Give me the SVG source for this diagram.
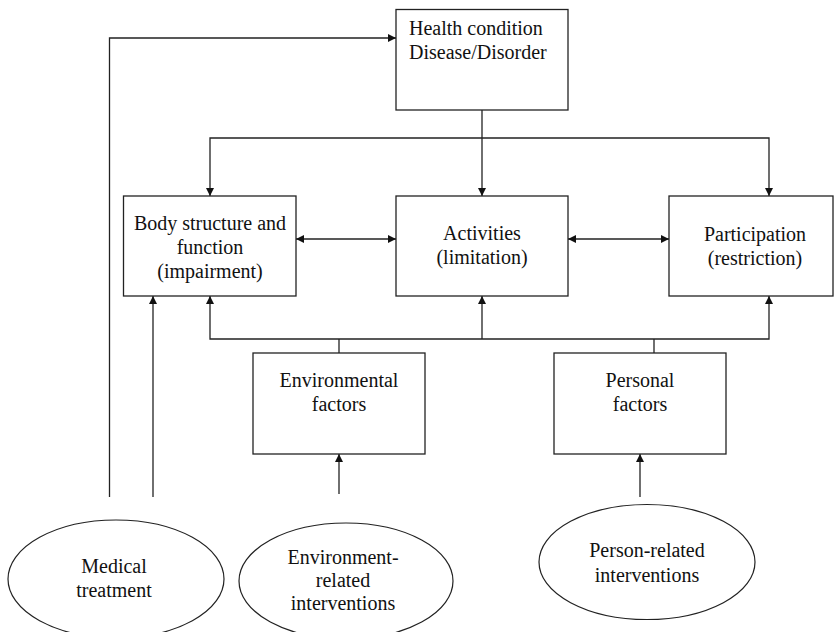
<svg xmlns="http://www.w3.org/2000/svg" width="835" height="632" viewBox="0 0 835 632">
<style>
.box{fill:#fff;stroke:#222;stroke-width:1.3}
.ell{fill:#fff;stroke:#222;stroke-width:1.2}
.ln{fill:none;stroke:#222;stroke-width:1.3}
.t{font-family:'Liberation Serif','DejaVu Serif','Times New Roman',serif;font-size:20px;fill:#111}
.c{text-anchor:middle}
</style>
<defs>
<marker id="ah" viewBox="0 0 10 10" refX="10" refY="5" markerWidth="9" markerHeight="8" markerUnits="userSpaceOnUse" orient="auto-start-reverse">
<path d="M0,0 L10,5 L0,10 Z" fill="#111"/>
</marker>
</defs>
<rect width="835" height="632" fill="#fff"/>
<g id="connectors">
<path class="ln" d="M109.5,497 V38 H396" marker-end="url(#ah)"/>
<path class="ln" d="M482,110 V196" marker-end="url(#ah)"/>
<path class="ln" d="M210,196 V138 H769 V196" marker-start="url(#ah)" marker-end="url(#ah)"/>
<path class="ln" d="M296,239 H396" marker-start="url(#ah)" marker-end="url(#ah)"/>
<path class="ln" d="M568,239 H669" marker-start="url(#ah)" marker-end="url(#ah)"/>
<path class="ln" d="M210,296 V339 H769 V296" marker-start="url(#ah)" marker-end="url(#ah)"/>
<path class="ln" d="M482,339 V296" marker-end="url(#ah)"/>
<path class="ln" d="M339,353 V339"/>
<path class="ln" d="M654,353 V339"/>
<path class="ln" d="M153,497 V296" marker-end="url(#ah)"/>
<path class="ln" d="M339,494 V454" marker-end="url(#ah)"/>
<path class="ln" d="M640,497 V454" marker-end="url(#ah)"/>
</g>
<g class="t" font-family="Liberation Serif, DejaVu Serif, serif">
<g id="health">
<rect class="box" x="396" y="9.5" width="172" height="100.5"/>
<text x="409" y="35">Health condition</text>
<text x="409" y="59">Disease/Disorder</text>
</g>
<g id="body">
<rect class="box" x="123.5" y="196" width="172.5" height="100"/>
<text class="c" x="210" y="230">Body structure and</text>
<text class="c" x="210" y="254">function</text>
<text class="c" x="210" y="278">(impairment)</text>
</g>
<g id="activities">
<rect class="box" x="396" y="196" width="172" height="100"/>
<text class="c" x="482" y="240">Activities</text>
<text class="c" x="482" y="264">(limitation)</text>
</g>
<g id="participation">
<rect class="box" x="669" y="196" width="164" height="100"/>
<text class="c" x="755" y="241">Participation</text>
<text class="c" x="755" y="265">(restriction)</text>
</g>
<g id="environmental">
<rect class="box" x="253" y="353" width="172" height="101"/>
<text class="c" x="339" y="387">Environmental</text>
<text class="c" x="339" y="411">factors</text>
</g>
<g id="personal">
<rect class="box" x="554" y="353" width="172" height="101"/>
<text class="c" x="640" y="387">Personal</text>
<text class="c" x="640" y="411">factors</text>
</g>
<g id="medical">
<ellipse class="ell" cx="116" cy="579" rx="108" ry="59"/>
<text class="c" x="114" y="573">Medical</text>
<text class="c" x="114" y="597">treatment</text>
</g>
<g id="env-interventions">
<ellipse class="ell" cx="346" cy="581" rx="107" ry="58"/>
<text class="c" x="343" y="564">Environment-</text>
<text class="c" x="343" y="587">related</text>
<text class="c" x="343" y="610">interventions</text>
</g>
<g id="person-interventions">
<ellipse class="ell" cx="647" cy="562" rx="108" ry="57.5"/>
<text class="c" x="647" y="557">Person-related</text>
<text class="c" x="647" y="582">interventions</text>
</g>
</g>
</svg>
